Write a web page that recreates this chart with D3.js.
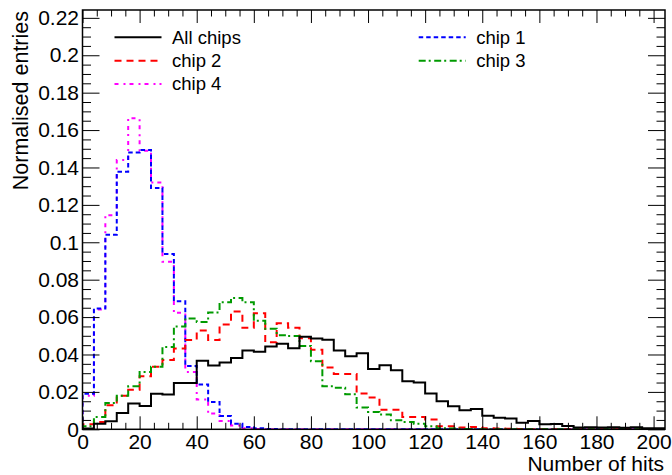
<!DOCTYPE html>
<html>
<head>
<meta charset="utf-8">
<script src="https://cdn.jsdelivr.net/npm/d3@7/dist/d3.min.js"></script>
<style>
  html, body { margin: 0; padding: 0; background: #fff; }
  svg { display: block; font-family: "Liberation Sans", Arial, Helvetica, sans-serif; }
</style>
</head>
<body>
<svg id="chart" width="672" height="475"></svg>
<script>
// ---------------- data (bin width 4, bins start at 0) ----------------
const binWidth = 4;
const allChips = [0.0004,0.003,0.0043,0.0087,0.0138,0.0125,0.019,0.0186,0.0248,0.0248,
  0.0366,0.0341,0.0357,0.0381,0.0422,0.0415,0.0443,0.0457,0.0433,0.0495,
  0.0485,0.0479,0.0422,0.039,0.0407,0.0323,0.0343,0.0316,0.0257,0.025,
  0.0191,0.015,0.0123,0.0102,0.0108,0.0073,0.0062,0.0058,0.0035,0.0044,
  0.0027,0.0028,0.0018,0.0009,0.0011,0.0009,0.0011,0.0008,0.0011,0.0005,0.0005];
const chip1 = [0.019,0.0646,0.104,0.1377,0.148,0.1494,0.129,0.0937,0.0685,0.0339,
  0.024,0.0146,0.0071,0.003,0.0012,0.0005,0.0002,0,0,0,
  0,0,0,0,0,0,0,0,0,0,0,0,0,0,0,0,0,0,0,0,0,0,0,0,0,0,0,0,0,0,0];
const chip2 = [0.0027,0.0039,0.0128,0.018,0.0212,0.0284,0.0334,0.037,0.0432,0.0478,
  0.0528,0.0477,0.056,0.063,0.0543,0.062,0.0465,0.0567,0.0543,0.0487,
  0.0426,0.033,0.0296,0.0296,0.0191,0.017,0.0105,0.0105,0.0066,0.0066,
  0.0052,0.0016,0.0016,0.0009,0.0012,0.0005,0.0004,0.0003,0.0002,0,
  0,0,0,0,0,0,0,0,0,0,0];
const chip3 = [0.0016,0.0066,0.014,0.018,0.023,0.0307,0.0334,0.044,0.055,0.0593,
  0.0574,0.0625,0.068,0.0702,0.068,0.058,0.0537,0.0503,0.0499,0.0446,
  0.0364,0.023,0.0222,0.0187,0.0116,0.0093,0.0079,0.0048,0.0039,0.003,
  0.0016,0.0006,0.0004,0.0002,0,0,0,0,0,0,
  0,0,0,0,0,0,0,0,0,0,0];
const chip4 = [0.018,0.064,0.1145,0.144,0.1663,0.149,0.132,0.0896,0.0623,0.0307,
  0.0159,0.0084,0.0044,0.002,0.0006,0.0002,0,0,0,0,
  0,0,0,0,0,0,0,0,0,0,0,0,0,0,0,0,0,0,0,0,0,0,0,0,0,0,0,0,0,0,0];
const seriesNames = ["All chips", "chip 1", "chip 2", "chip 3", "chip 4"];
const xTickValues = [0,20,40,60,80,100,120,140,160,180,200];
const yTickValues = [0,0.02,0.04,0.06,0.08,0.1,0.12,0.14,0.16,0.18,0.2,0.22];
const xTitle = "Number of hits";
const yTitle = "Normalised entries";

// ---------------- layout ----------------
const L = 82.5, R = 665, T = 10, B = 429.3;
const svg = d3.select("#chart");
const x = d3.scaleLinear().domain([0, 204]).range([L, R]);
const y = d3.scaleLinear().domain([0, 0.2242]).range([B, T]);

const styles = {
  "All chips": {color: "#000000", dash: null},
  "chip 1": {color: "#0000ff", dash: "4.5,3"},
  "chip 2": {color: "#ff0000", dash: "7,5"},
  "chip 3": {color: "#009a00", dash: "7,3,2,3.5"},
  "chip 4": {color: "#ff00ff", dash: "4,5,2,4"}
};
const seriesData = {"All chips": allChips, "chip 1": chip1, "chip 2": chip2, "chip 3": chip3, "chip 4": chip4};

svg.append("defs").append("clipPath").attr("id", "clip")
  .append("rect").attr("x", L).attr("y", T).attr("width", R - L).attr("height", B - T);

// ---------------- histograms ----------------
const line = d3.line().x(d => x(d[0])).y(d => y(d[1])).curve(d3.curveStepAfter);
function stepPoints(vals) {
  const pts = [[0, 0]];
  vals.forEach((v, i) => pts.push([i * binWidth, v]));
  pts.push([vals.length * binWidth, vals[vals.length - 1]]);
  pts.push([vals.length * binWidth, 0]);
  return pts;
}
const drawOrder = ["chip 4", "chip 1", "chip 2", "chip 3", "All chips"];
const gh = svg.append("g").attr("clip-path", "url(#clip)");
drawOrder.forEach(name => {
  gh.append("path")
    .attr("d", line(stepPoints(seriesData[name])))
    .attr("fill", "none")
    .attr("stroke", styles[name].color)
    .attr("stroke-width", 2)
    .attr("stroke-dasharray", styles[name].dash)
    .attr("stroke-linejoin", "miter");
});

// ---------------- axes ----------------
const xMinor = d3.range(0, 205, 5).filter(v => v % 20 !== 0);
const yMinor = d3.range(0, 0.2242, 0.005).filter(v => Math.abs(v / 0.02 - Math.round(v / 0.02)) > 1e-6);
const yFmt = d => String(+d.toFixed(2));

function styleAxis(g) {
  g.select(".domain").remove();
  g.selectAll("line").attr("stroke", "#000").attr("stroke-width", 1);
  g.selectAll("text").attr("font-size", 21).attr("fill", "#000")
    .attr("font-family", "'Liberation Sans', Arial, Helvetica, sans-serif");
}
// bottom
svg.append("g").attr("transform", `translate(0,${B})`)
  .call(d3.axisBottom(x).tickValues(xTickValues).tickSizeInner(-13).tickSizeOuter(0).tickPadding(4.5).tickFormat(d3.format("d")))
  .call(styleAxis);
svg.append("g").attr("transform", `translate(0,${B})`)
  .call(d3.axisBottom(x).tickValues(xMinor).tickSizeInner(-6.5).tickSizeOuter(0).tickFormat(""))
  .call(styleAxis);
// top
svg.append("g").attr("transform", `translate(0,${T})`)
  .call(d3.axisTop(x).tickValues(xTickValues).tickSizeInner(-13).tickSizeOuter(0).tickFormat(""))
  .call(styleAxis);
svg.append("g").attr("transform", `translate(0,${T})`)
  .call(d3.axisTop(x).tickValues(xMinor).tickSizeInner(-6.5).tickSizeOuter(0).tickFormat(""))
  .call(styleAxis);
// left
svg.append("g").attr("transform", `translate(${L},0)`)
  .call(d3.axisLeft(y).tickValues(yTickValues).tickSizeInner(-17).tickSizeOuter(0).tickPadding(3.5).tickFormat(yFmt))
  .call(styleAxis);
svg.append("g").attr("transform", `translate(${L},0)`)
  .call(d3.axisLeft(y).tickValues(yMinor).tickSizeInner(-8.5).tickSizeOuter(0).tickFormat(""))
  .call(styleAxis);
// right
svg.append("g").attr("transform", `translate(${R},0)`)
  .call(d3.axisRight(y).tickValues(yTickValues).tickSizeInner(-17).tickSizeOuter(0).tickFormat(""))
  .call(styleAxis);
svg.append("g").attr("transform", `translate(${R},0)`)
  .call(d3.axisRight(y).tickValues(yMinor).tickSizeInner(-8.5).tickSizeOuter(0).tickFormat(""))
  .call(styleAxis);

// frame
svg.append("rect").attr("x", L).attr("y", T).attr("width", R - L).attr("height", B - T)
  .attr("fill", "none").attr("stroke", "#000").attr("stroke-width", 1.5);

// titles
svg.append("text").attr("x", 664).attr("y", 471).attr("text-anchor", "end")
  .attr("font-size", 21).text(xTitle);
svg.append("text").attr("transform", "translate(28,11) rotate(-90)").attr("text-anchor", "end")
  .attr("font-size", 21.5).text(yTitle);

// ---------------- legend ----------------
const legendItems = [
  {name: "All chips", col: 0, row: 0},
  {name: "chip 2", col: 0, row: 1},
  {name: "chip 4", col: 0, row: 2},
  {name: "chip 1", col: 1, row: 0},
  {name: "chip 3", col: 1, row: 1}
];
const colX = [114.5, 418.7], rowY = [37.3, 60.7, 84];
const lg = svg.append("g");
legendItems.forEach(it => {
  const x0 = colX[it.col], y0 = rowY[it.row];
  lg.append("line").attr("x1", x0).attr("x2", x0 + 47).attr("y1", y0).attr("y2", y0)
    .attr("stroke", styles[it.name].color).attr("stroke-width", 2)
    .attr("stroke-dasharray", styles[it.name].dash);
  lg.append("text").attr("x", x0 + 57.5).attr("y", y0).attr("dy", "0.35em")
    .attr("font-size", 18.5).text(it.name);
});
</script>
</body>
</html>
